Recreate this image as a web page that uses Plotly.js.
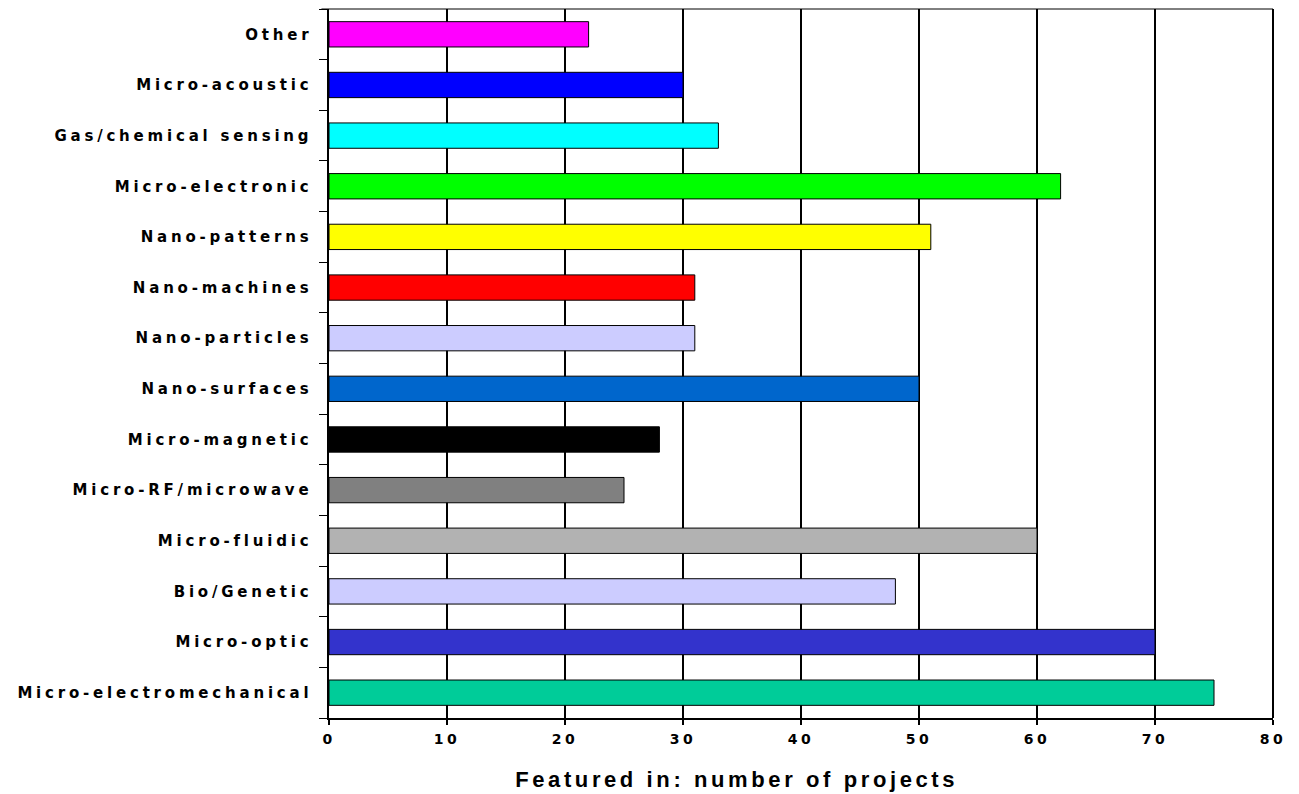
<!DOCTYPE html>
<html><head><meta charset="utf-8">
<script src="https://cdn.plot.ly/plotly-3.0.1.min.js"></script>
<style>
html,body{margin:0;padding:0;background:#fff;}
#chart{width:1299px;height:794px;}
.ytick text{letter-spacing:3.8px;}
.xtick text{letter-spacing:3.4px;}
.annotation text{letter-spacing:3.6px;}
</style>
</head><body>
<div id="chart"></div>
<script>
// Categories listed from bottom to top
const categories = [
  "Micro-electromechanical","Micro-optic","Bio/Genetic","Micro-fluidic",
  "Micro-RF/microwave","Micro-magnetic","Nano-surfaces","Nano-particles",
  "Nano-machines","Nano-patterns","Micro-electronic","Gas/chemical sensing",
  "Micro-acoustic","Other"
];
const projects = [75,70,48,60,25,28,50,31,31,51,62,33,30,22];
const barColors = [
  "#00CC99","#3333CC","#CCCCFF","#B2B2B2",
  "#808080","#000000","#0066CC","#CCCCFF",
  "#FF0000","#FFFF00","#00FF00","#00FFFF",
  "#0000FF","#FF00FF"
];
const xTicks = [0,10,20,30,40,50,60,70,80];
const xTitle = "Featured in: number of projects";

const trace = {
  type:"bar", orientation:"h",
  x: projects, y: categories,
  marker:{color: barColors, line:{color:"#000", width:1}},
  hoverinfo:"x+y"
};
const layout = {
  width:1299, height:794,
  margin:{l:329, r:26, t:9, b:76, pad:0},
  paper_bgcolor:"#fff", plot_bgcolor:"#fff",
  bargap:0.5,
  showlegend:false,
  font:{family:"DejaVu Sans, sans-serif", color:"#000"},
  xaxis:{
    range:[0,80], tickvals:xTicks, ticktext:xTicks.map(String),
    showgrid:true, gridcolor:"#000", gridwidth:1.6,
    zeroline:false,
    showline:true, linecolor:"#000", linewidth:1.6, mirror:false,
    ticks:"outside", ticklen:5, tickwidth:1.6, tickcolor:"#000",
    ticklabelstandoff:3,
    tickfont:{size:14, family:"DejaVu Sans, sans-serif", weight:"bold"}
  },
  yaxis:{
    type:"category", categoryorder:"array", categoryarray:categories,
    showline:true, linecolor:"#000", linewidth:1.6,
    ticks:"outside", ticklen:8, tickwidth:1, tickcolor:"#000",
    tickson:"boundaries", showgrid:false,
    ticklabelstandoff:12,
    tickfont:{size:15, family:"DejaVu Sans, sans-serif", weight:"bold"}
  },
  annotations:[{
    text:xTitle, xref:"paper", yref:"paper", x:0.432, y:-0.0874,
    xanchor:"center", yanchor:"middle", showarrow:false,
    font:{size:22, family:"Liberation Sans, Arial, sans-serif", weight:"bold", color:"#000"}
  }],
  shapes:[
    {type:"line", xref:"paper", yref:"paper", x0:-0.008, x1:1, y0:1, y1:1, line:{color:"#000", width:1}},
    {type:"line", xref:"paper", yref:"paper", x0:1, x1:1, y0:0, y1:1, line:{color:"#000", width:2}}
  ]
};
Plotly.newPlot("chart",[trace],layout,{displayModeBar:false, staticPlot:true});
</script>
</body></html>
